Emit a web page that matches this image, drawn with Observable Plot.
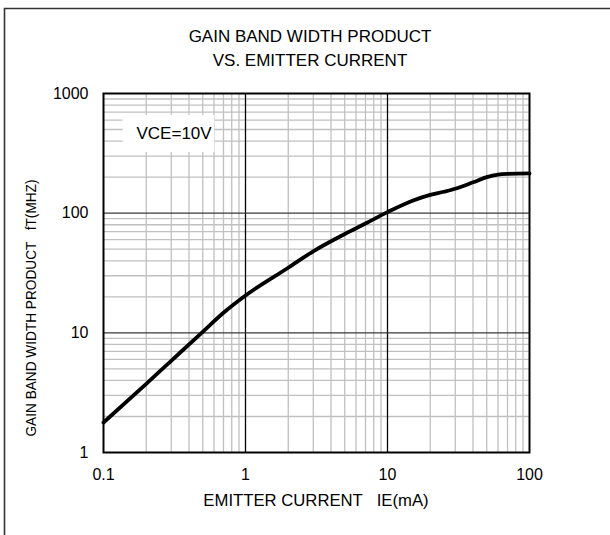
<!DOCTYPE html>
<html><head><meta charset="utf-8">
<script src="https://cdn.jsdelivr.net/npm/d3@7"></script>
<script src="https://cdn.jsdelivr.net/npm/@observablehq/plot@0.6"></script>
<style>
html,body{margin:0;padding:0;background:#fff;}
#chart{width:610px;height:535px;}
</style>
</head><body><div id="chart"></div>
<script>
// Data (log-log curve)
const current = [0.1, 0.2, 0.3, 0.5, 0.7, 1, 2, 3, 5, 7, 10, 15, 20, 25, 30, 40, 50, 60, 70, 100];
const fT      = [1.78, 3.75, 5.84, 10.2, 14.7, 20.5, 35, 48, 67, 82, 102, 127, 142, 151, 160, 181, 200, 210, 213, 215];
const xTicks = [0.1, 1, 10, 100];
const yTicks = [1, 10, 100, 1000];
const titleLines = ["GAIN BAND WIDTH PRODUCT", "VS. EMITTER CURRENT"];
const xLabel = "EMITTER CURRENT\u00a0\u00a0\u00a0IE(mA)";
const yLabel = "GAIN BAND WIDTH PRODUCT\u00a0\u00a0\u00a0fT(MHZ)";
const annotation = ["VCE=10V"];

const points = current.map((c, i) => ({current: c, fT: fT[i]}));
const minorOf = ticks => ticks.slice(0, -1).flatMap(d => [2,3,4,5,6,7,8,9].map(k => d * k));
const minorX = minorOf(xTicks);
const minorY = minorOf(yTicks);
const majorX = xTicks.slice(1, -1);
const majorY = yTicks.slice(1, -1);

const FONT = "'Liberation Sans', Arial, sans-serif";

const svg = Plot.plot({
  width: 610, height: 535,
  marginLeft: 103, marginRight: 81, marginTop: 93, marginBottom: 83,
  x: {type: "log", domain: [0.1, 100]},
  y: {type: "log", domain: [1, 1000]},
  style: {fontFamily: FONT, fontSize: "16px", color: "#000", background: "#fff", overflow: "visible"},
  marks: [
    Plot.ruleX(minorX, {x: d => d, stroke: "#c0c0c0", strokeWidth: 1.3, strokeOpacity: 1}),
    Plot.ruleY(minorY, {y: d => d, stroke: "#c0c0c0", strokeWidth: 1.3, strokeOpacity: 1}),
    Plot.ruleX(majorX, {x: d => d, stroke: "#000", strokeWidth: 1.3}),
    Plot.ruleY(majorY, {y: d => d, stroke: "#3a3a3a", strokeWidth: 1.3}),
    Plot.text(annotation, {text: d => d, frameAnchor: "top-left", dx: 33, dy: 40, textAnchor: "start", lineAnchor: "middle", fontSize: 17, fill: "#000"}),
    Plot.line(points, {x: "current", y: "fT", stroke: "#000", strokeWidth: 3.8, curve: "monotone-x"}),
    Plot.frame({stroke: "#000", strokeWidth: 2}),
    Plot.axisX({ticks: xTicks, tickSize: 0, tickPadding: 16, tickFormat: d => String(d), label: null, fontSize: 16}),
    Plot.axisY({ticks: yTicks, tickSize: 0, tickPadding: 15, tickFormat: d => String(d), label: null, fontSize: 16})
  ]
});

document.getElementById("chart").appendChild(svg);
const s = d3.select(svg);

// white box behind the annotation, sized from the text itself
const annText = Array.from(svg.querySelectorAll("text")).find(t => t.textContent === annotation[0]);
if (annText) {
  const bb = annText.getBBox();
  const ctm = annText.getCTM();
  const g = annText.closest("g[aria-label='text']") || annText.parentNode;
  const rect = document.createElementNS("http://www.w3.org/2000/svg", "rect");
  const ox = ctm ? ctm.e : 0, oy = ctm ? ctm.f : 0;
  rect.setAttribute("x", ox + bb.x - 14);
  rect.setAttribute("y", oy + bb.y - 9);
  rect.setAttribute("width", bb.width + 16);
  rect.setAttribute("height", bb.height + 18);
  rect.setAttribute("fill", "#fff");
  g.parentNode.insertBefore(rect, g);
}

// titles and axis labels
const tg = s.append("g").attr("font-family", FONT).attr("fill", "#000");
titleLines.forEach((t, i) => {
  tg.append("text").attr("x", 310).attr("y", 36 + i * 24).attr("font-size", 17).attr("text-anchor", "middle").attr("dy", "0.35em").text(t);
});
tg.append("text").attr("x", 316).attr("y", 500).attr("font-size", 16.7).attr("text-anchor", "middle").attr("dy", "0.35em").text(xLabel);
tg.append("text").attr("transform", "translate(31,308) rotate(-90)").attr("font-size", 15.5)
  .attr("textLength", 257).attr("lengthAdjust", "spacingAndGlyphs")
  .attr("text-anchor", "middle").attr("dy", "0.35em").text(yLabel);

// outer border (top and left edges)
s.append("path").attr("d", "M4.5,535V8.5H610").attr("fill", "none").attr("stroke", "#333").attr("stroke-width", 1.6);
</script>
</body></html>
